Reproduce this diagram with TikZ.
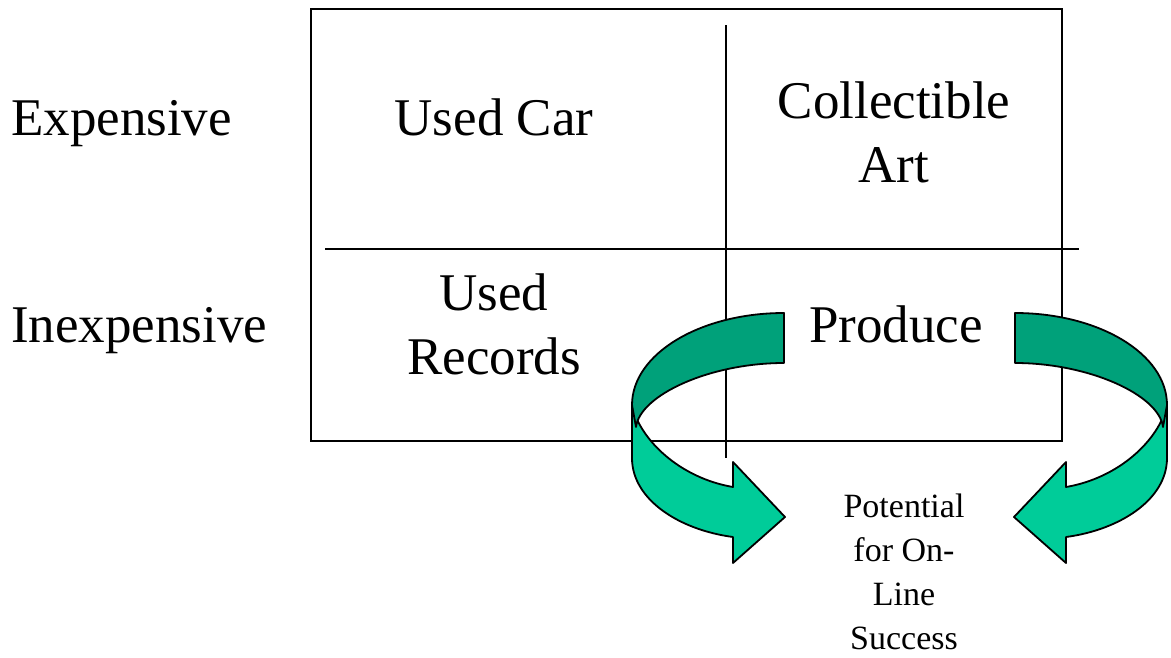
\documentclass[tikz,border=0pt]{standalone}
\usepackage{fontspec}
\setmainfont{Liberation Serif}
\definecolor{ribbonlight}{RGB}{0,204,153}
\definecolor{ribbondark}{RGB}{0,161,122}
\begin{document}
\begin{tikzpicture}[x=1pt,y=-1pt,
  grid/.style={line width=1.8pt, black},
  bigtext/.style={inner sep=0pt, font=\fontsize{53}{64}\selectfont},
  smalltext/.style={inner sep=0pt, align=center, font=\fontsize{34}{44}\selectfont},
  frontband/.style={fill=ribbonlight, draw=black, line width=1.8pt, line join=round},
  backband/.style={fill=ribbondark, draw=black, line width=1.8pt, line join=round}]
\useasboundingbox (0,0) rectangle (1171,657);

% matrix frame and dividers
\draw[grid] (311,9) rectangle (1062,441);
\coordinate (vtop) at (726,25);
\coordinate (vbot) at (726,458);
\coordinate (hleft) at (325,249);
\coordinate (hright) at (1079,249);
\draw[grid] (vtop) -- (vbot);
\draw[grid] (hleft) -- (hright);

% row labels
\node[bigtext, anchor=base west] (exp) at (11,135) {Expensive};
\node[bigtext, anchor=base west] (inexp) at (11,342) {Inexpensive};

% cells
\node[bigtext, anchor=base] (car) at (494,135) {Used Car};
\node[bigtext, anchor=north, align=center] (art) at (894,81.5) {Collectible\\Art};
\node[bigtext, anchor=north, align=center] (rec) at (494,273.5) {Used\\Records};
\node[bigtext, anchor=base] (prod) at (896,342) {Produce};

% outcome label
\node[smalltext, anchor=north] (pot) at (904,494) {Potential\\for On-\\Line\\Success};

% left ribbon arrow
\begin{scope}
  \filldraw[frontband] (632,405) -- (632,458)
    .. controls (632,500) and (680,530) .. (733,537)
    -- (733,563) -- (785,517) -- (733,462) -- (733,487)
    .. controls (680,478) and (640,440) .. (632,405) -- cycle;
  \filldraw[backband] (784,313) .. controls (700,313) and (632,354) .. (632,405)
    -- (636,427) .. controls (640,395) and (710,363) .. (784,363) -- cycle;
\end{scope}

% right ribbon arrow (mirror image)
\begin{scope}[shift={(1799,0)}, xscale=-1]
  \filldraw[frontband] (632,405) -- (632,458)
    .. controls (632,500) and (680,530) .. (733,537)
    -- (733,563) -- (785,517) -- (733,462) -- (733,487)
    .. controls (680,478) and (640,440) .. (632,405) -- cycle;
  \filldraw[backband] (784,313) .. controls (700,313) and (632,354) .. (632,405)
    -- (636,427) .. controls (640,395) and (710,363) .. (784,363) -- cycle;
\end{scope}
\end{tikzpicture}
\end{document}
